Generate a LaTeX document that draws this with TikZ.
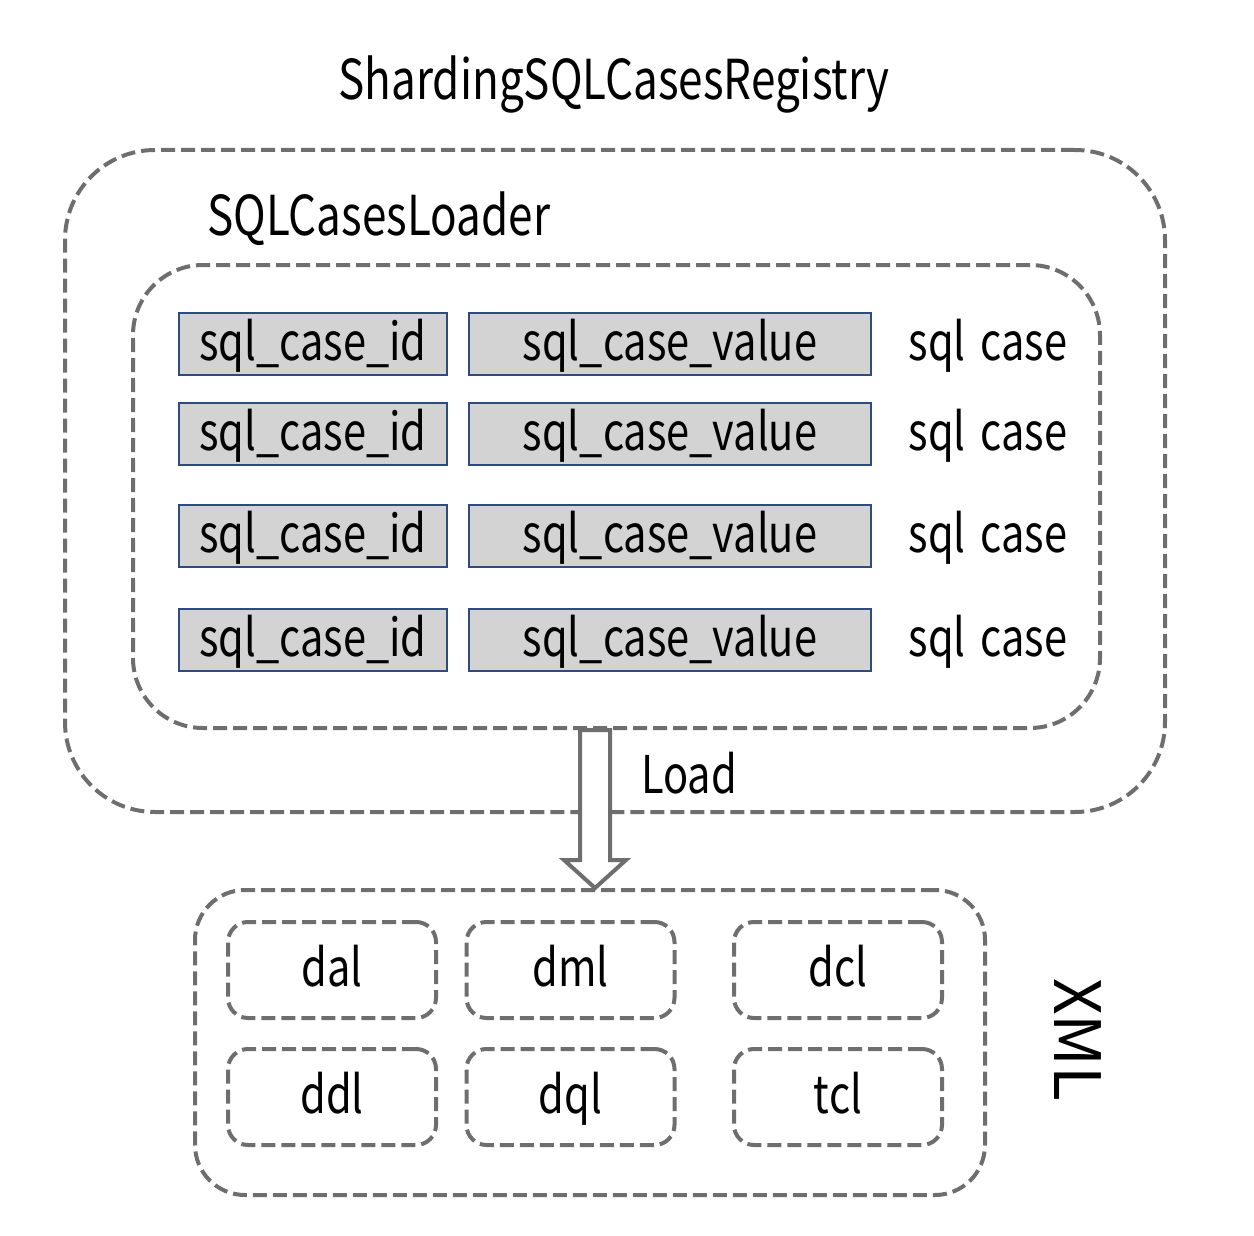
\documentclass[tikz,border=0pt]{standalone}
\usepackage{fontspec}
\setmainfont{Noto Sans CJK SC}[FakeStretch=0.8,WordSpace=1.6]
\newfontfamily\xmlface{Noto Sans CJK SC}
\usetikzlibrary{positioning,calc}

\definecolor{dashgray}{HTML}{6E6E6E}
\definecolor{casefill}{HTML}{D3D3D3}
\definecolor{caseline}{HTML}{2F4A7F}

\begin{document}
\begin{tikzpicture}[x=0.5pt,y=-0.5pt,
                    frame/.style={draw=dashgray,line width=2pt,dash pattern=on 7pt off 3pt},
                    label/.style={inner sep=0pt,text height=22pt,text depth=6pt,
                                  font=\fontsize{26}{31}\selectfont},
                    title/.style={inner sep=0pt,font=\fontsize{27.5}{33}\selectfont},
                    casebox/.style={label,draw=caseline,fill=casefill,line width=1pt,minimum height=31pt},
                    xmlbox/.style={frame,label,rounded corners=10pt,minimum width=104pt,minimum height=48pt}]
  \useasboundingbox (0,0) rectangle (1254,1236);

  \node[frame,rounded corners=45pt,minimum width=550pt,minimum height=331pt] (registry) at (615,481) {};
  \node[title,anchor=base] (registrytitle) at (614,100) {ShardingSQLCasesRegistry};

  \node[frame,rounded corners=35pt,minimum width=483.5pt,minimum height=231.5pt] (loader) at (616.5,496.5) {};
  \node[title,anchor=base west] (loadertitle) at (207,235) {SQLCasesLoader};

  % sql cases
  \foreach \y [count=\i] in {344,434,536,640} {
    \node[casebox,minimum width=134pt] (id\i) at (313,\y) {sql\_case\_id};
    \node[casebox,minimum width=201pt,right=10pt of id\i] (value\i) {sql\_case\_value};
    \node[label] (case\i) at (988,\y) {sql case};
  }

  \node[frame,rounded corners=25pt,minimum width=395pt,minimum height=152.5pt] (xml) at (590,1042.5) {};
  \node[inner sep=0pt,rotate=-90,font=\xmlface\fontsize{32}{38}\selectfont] (xmltitle) at (1078,1040) {XML};

  \node[xmlbox] (dal) at (332,970) {dal};
  \node[xmlbox] (dml) at (570.5,970) {dml};
  \node[xmlbox] (dcl) at (838,970) {dcl};
  \node[xmlbox] (ddl) at (332,1097) {ddl};
  \node[xmlbox] (dql) at (570.5,1097) {dql};
  \node[xmlbox] (tcl) at (838,1097) {tcl};

  % Load arrow
  \coordinate (loadtop) at (loader.south -| 595,0);
  \coordinate (loadtip) at (xml.north -| 595,0);
  \draw[dashgray,fill=white,line width=2pt,line join=miter]
    ($(loadtop)+(-15,0)$) -- ($(loadtip)+(-15,-28)$) -- ($(loadtip)+(-31,-28)$) -- (loadtip)
    -- ($(loadtip)+(31,-28)$) -- ($(loadtip)+(15,-28)$) -- ($(loadtop)+(15,0)$) -- cycle;
  \node[label,anchor=base west] (loadtext) at (641,793) {Load};
\end{tikzpicture}
\end{document}
